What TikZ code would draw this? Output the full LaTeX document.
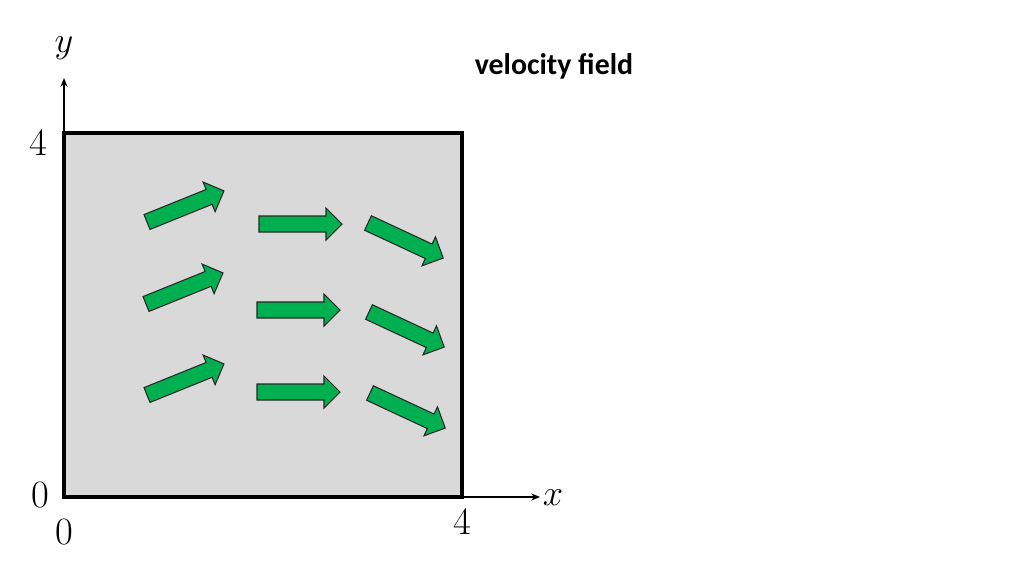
\documentclass[tikz,border=0pt]{standalone}
\usepackage{fontspec}
\newfontfamily\titlefont{Carlito}
\usetikzlibrary{arrows.meta}
\definecolor{fieldgreen}{HTML}{00B050}
\definecolor{boxgray}{HTML}{D9D9D9}

\begin{document}
\begin{tikzpicture}[x=0.02cm, y=0.02cm,
  flow/.style={fill=fieldgreen, draw=black!85, line width=0.6pt},
  axis/.style={-{Stealth[length=5pt,width=4pt]}, line width=0.6pt},
  ticklabel/.style={font=\fontsize{22}{26}\selectfont, inner sep=0pt}]
\useasboundingbox (0,0) rectangle (1024,576);
% axes
\coordinate (o) at (64,79);
\coordinate (ytop) at (64,498);
\coordinate (xend) at (540,79);
\draw[axis] (o) -- (ytop);
\draw[axis] (o) -- (xend);
% domain
\draw[fill=boxgray, line width=2pt] (o) rectangle (462,443);
\node[ticklabel] (ylab) at (64,528) {$y$};
\node[ticklabel] (xlab) at (553,78) {$x$};
\node[ticklabel] (yfour) at (38,433) {4};
\node[ticklabel] (yzero) at (40,81) {0};
\node[ticklabel] (xzero) at (64,44) {0};
\node[ticklabel] (xfour) at (462,54) {4};
\node[font=\titlefont\bfseries\fontsize{17}{20}\selectfont] (title) at (554,510) {velocity field};
% velocity arrows: tail x/y, angle
\foreach \tx/\ty/\ang in {147/354/22, 146/272/22, 147/181/22,
                          259/352/0, 257/266/0, 257/184/0,
                          368/353/-25, 369/264/-25, 370/183/-25}
  \draw[flow, shift={(\tx,\ty)}, rotate=\ang]
    (0,-8) -- (67,-8) -- (67,-16) -- (83,0) -- (67,16) -- (67,8) -- (0,8) -- cycle;
\end{tikzpicture}
\end{document}
